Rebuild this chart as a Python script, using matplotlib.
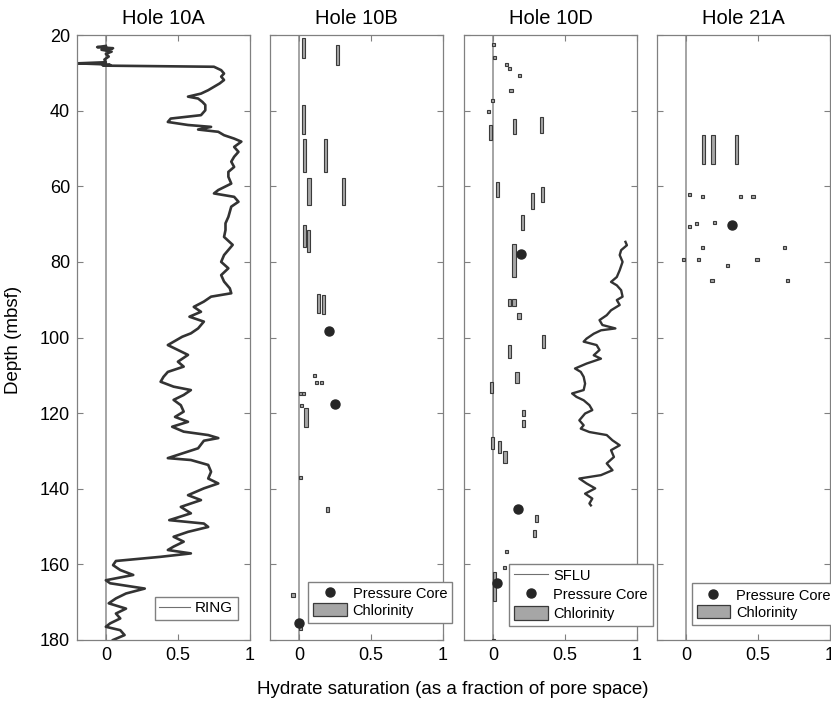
import matplotlib
matplotlib.use("Agg")
import matplotlib.pyplot as plt
from matplotlib.lines import Line2D
from matplotlib.patches import Patch

plt.rcParams['font.family'] = ['Liberation Sans', 'DejaVu Sans']

# ---------------- data ----------------
holes = ["Hole 10A", "Hole 10B", "Hole 10D", "Hole 21A"]

ring_depth = [22.9, 23.2, 23.5, 23.9, 24.4, 25.0, 25.7, 26.5, 27.2, 27.5, 27.7, 27.9, 28.1,
              28.4, 29.3, 30.2, 31.0, 31.9, 32.8, 33.7, 34.6, 35.5, 36.3, 36.8, 37.7, 38.5,
              39.9, 41.2, 42.1, 43.0, 43.8, 44.3, 45.0, 45.6, 46.5, 47.4, 48.2, 49.6, 50.9,
              52.2, 53.5, 54.9, 56.2, 57.5, 59.3, 61.0, 61.9, 62.8, 64.1, 65.4, 66.8, 68.1,
              69.8, 71.6, 73.4, 75.5, 78.2, 80.0, 81.7, 83.5, 85.2, 87.0, 88.3, 89.2, 90.5,
              91.9, 93.2, 94.5, 95.8, 97.6, 98.9, 99.8, 101.1, 102.0, 103.3, 104.6, 106.4,
              107.7, 109.1, 110.4, 111.7, 113.0, 113.9, 115.2, 116.5, 117.9, 119.6, 121.0,
              122.3, 123.6, 124.9, 125.8, 126.6, 127.3, 129.3, 131.9, 132.4, 133.7, 135.5,
              137.3, 138.6, 139.9, 141.7, 143.0, 144.8, 146.5, 148.3, 149.2, 150.1, 151.4,
              152.7, 154.0, 155.3, 156.2, 157.1, 158.0, 158.6, 159.1, 160.2, 161.5, 162.8,
              164.2, 165.0, 166.4, 167.7, 169.0, 170.3, 171.7, 173.0, 174.3, 175.6, 176.5,
              177.4, 178.7, 180.0]
ring_value = [0.0, -0.06, 0.05, -0.03, 0.04, 0.0, 0.02, -0.01, 0.0, -0.2, -0.05, 0.03, -0.02,
              0.75, 0.80, 0.82, 0.80, 0.82, 0.79, 0.75, 0.71, 0.66, 0.57, 0.64, 0.67, 0.69,
              0.69, 0.66, 0.45, 0.43, 0.57, 0.73, 0.64, 0.78, 0.82, 0.89, 0.94, 0.89, 0.92,
              0.89, 0.87, 0.89, 0.85, 0.85, 0.87, 0.78, 0.75, 0.89, 0.92, 0.87, 0.86, 0.85,
              0.83, 0.83, 0.82, 0.88, 0.82, 0.80, 0.85, 0.80, 0.82, 0.86, 0.87, 0.73, 0.68,
              0.61, 0.66, 0.58, 0.68, 0.64, 0.59, 0.53, 0.47, 0.43, 0.50, 0.57, 0.50,
              0.54, 0.43, 0.40, 0.38, 0.47, 0.59, 0.54, 0.47, 0.52, 0.54, 0.48,
              0.57, 0.46, 0.54, 0.71, 0.78, 0.68, 0.64, 0.43, 0.59, 0.71, 0.73,
              0.71, 0.78, 0.68, 0.57, 0.66, 0.52, 0.59, 0.44, 0.68, 0.71, 0.57,
              0.47, 0.54, 0.47, 0.43, 0.59, 0.38, 0.21, 0.07, 0.05, 0.10, 0.19,
              0.0, 0.03, 0.27, 0.14, 0.07, 0.02, 0.14, 0.07, 0.10, 0.03, 0.0,
              0.10, 0.13, 0.05]

sflu_depth = [74.7, 75.6, 76.9, 78.2, 80.0, 82.2, 84.0, 85.3, 86.2, 87.5, 89.2, 90.1, 91.4,
              92.8, 94.1, 95.4, 96.7, 97.6, 98.1, 99.0, 100.3, 101.1, 102.0, 103.3, 104.7,
              105.6, 106.9, 108.2, 109.1, 110.4, 112.2, 113.9, 114.8, 115.7, 116.6, 117.9,
              119.2, 120.1, 121.9, 123.2, 124.1, 125.0, 125.8, 127.2, 128.5, 129.8, 131.6,
              133.3, 135.1, 136.4, 137.3, 138.6, 139.9, 141.3, 142.6, 143.9, 144.4]
sflu_value = [0.92, 0.93, 0.89, 0.88, 0.90, 0.88, 0.86, 0.82, 0.86, 0.89, 0.90, 0.86, 0.88,
              0.82, 0.79, 0.74, 0.76, 0.85, 0.75, 0.70, 0.65, 0.63, 0.72, 0.74, 0.70,
              0.75, 0.65, 0.57, 0.61, 0.63, 0.64, 0.63, 0.55, 0.58, 0.63, 0.67,
              0.69, 0.64, 0.60, 0.63, 0.61, 0.67, 0.79, 0.83, 0.88, 0.82, 0.84,
              0.79, 0.83, 0.75, 0.60, 0.65, 0.71, 0.64, 0.69, 0.67, 0.68]

# chlorinity-derived saturation intervals: value, top depth, bottom depth
cl10b_value = [0.033, 0.266, 0.033, 0.042, 0.184, 0.070, 0.308, 0.040, 0.065, 0.135, 0.172,
               0.11, 0.12, 0.16, 0.01, 0.03, 0.02, 0.05, 0.01, 0.196, -0.04, 0.01]
cl10b_top = [20.7, 22.7, 38.4, 47.4, 47.4, 57.9, 57.9, 70.3, 71.6, 88.5, 88.7,
             109.7, 111.4, 111.4, 114.4, 114.4, 117.7, 118.7, 136.6, 144.7, 167.7, 176.6]
cl10b_bot = [26.2, 28.0, 46.1, 56.3, 56.3, 65.0, 65.0, 76.0, 77.3, 93.5, 93.9,
             110.5, 112.2, 112.2, 115.2, 115.2, 118.5, 123.6, 137.4, 146.2, 168.5, 177.4]
pc10b_value = [0.21, 0.254, 0.0]
pc10b_depth = [98.4, 117.7, 175.6]

cl10d_value = [0.005, 0.014, 0.093, 0.114, 0.184, 0.126, -0.005, -0.028, 0.149, 0.336, -0.014,
               0.030, 0.347, 0.273, 0.203, 0.147, 0.114, 0.147, 0.182, 0.35, 0.114, 0.168,
               -0.007, 0.21, 0.21, 0.0, 0.044, 0.084, 0.303, 0.287, 0.096, 0.079, 0.014, 0.005]
cl10d_top = [22.1, 25.6, 27.5, 28.4, 30.3, 34.2, 36.8, 39.9, 42.1, 41.8, 43.8,
             58.8, 60.1, 61.9, 67.5, 75.4, 89.7, 89.7, 93.4, 99.3, 102.0, 109.0,
             111.8, 119.2, 121.8, 126.4, 127.5, 129.9, 147.0, 150.9, 156.2, 160.4, 161.9, 179.8]
cl10d_bot = [22.9, 26.4, 28.3, 29.2, 31.1, 35.0, 37.6, 40.7, 46.2, 45.8, 47.8,
             62.9, 64.2, 66.0, 71.6, 84.0, 91.6, 91.6, 95.2, 102.9, 105.5, 112.0,
             114.8, 120.8, 123.6, 129.6, 130.6, 133.1, 148.7, 152.7, 157.0, 161.2, 169.6, 180.6]
pc10d_value = [0.193, 0.177, 0.028]
pc10d_depth = [77.9, 145.4, 164.8]

cl21a_value = [0.121, 0.189, 0.35, 0.028, 0.114, 0.382, 0.466, 0.028, 0.072, 0.198,
               0.114, 0.685, -0.016, 0.086, 0.494, 0.289, 0.182, 0.706]
cl21a_top = [46.4, 46.4, 46.4, 61.7, 62.2, 62.2, 62.2, 70.3, 69.4, 69.3,
             75.7, 75.7, 78.9, 78.9, 78.9, 80.5, 84.6, 84.6]
cl21a_bot = [54.1, 54.1, 54.1, 62.5, 63.0, 63.0, 63.0, 71.1, 70.2, 70.1,
             76.5, 76.5, 79.7, 79.7, 79.7, 81.3, 85.4, 85.4]
pc21a_value = [0.317]
pc21a_depth = [70.3]

x_ticks = [0, 0.5, 1]
x_ticklabels = ["0", "0.5", "1"]
y_ticks = [20, 40, 60, 80, 100, 120, 140, 160, 180]

# ---------------- figure ----------------
W, H = 831, 701
fig = plt.figure(figsize=(W / 100, H / 100), dpi=100)

lefts = [77, 270, 464, 657]
ax_w, top_px, bot_px = 173, 35, 640
axes = []
for i, lp in enumerate(lefts):
    ax = fig.add_axes([lp / W, (H - bot_px) / H, ax_w / W, (bot_px - top_px) / H])
    axes.append(ax)

frame_col = '#808080'
curve_col = '#333333'
bar_face = '#a6a6a6'
bar_edge = '#3a3a3a'
dot_col = '#262626'
zero_col = '#8c8c8c'
bar_w = 0.022

for i, ax in enumerate(axes):
    ax.set_xlim(-0.2, 1.0)
    ax.set_ylim(180, 20)
    ax.axvline(0, color=zero_col, lw=1.1, zorder=1)
    ax.set_xticks(x_ticks)
    ax.set_xticklabels(x_ticklabels)
    ax.set_yticks(y_ticks)
    ax.tick_params(direction='in', length=4.5, width=0.8, color=frame_col,
                   top=True, right=True, labelsize=13, pad=5)
    if i > 0:
        ax.set_yticklabels([])
    for s in ax.spines.values():
        s.set_color(frame_col)
        s.set_linewidth(0.9)
    ax.set_title(holes[i], fontsize=14.5, pad=8)


def draw_cl(ax, vals, tops, bots):
    heights = [b - t for t, b in zip(tops, bots)]
    ax.bar(vals, heights, bottom=tops, width=bar_w, color=bar_face,
           edgecolor=bar_edge, linewidth=0.8, zorder=3)


def draw_pc(ax, vals, depths):
    ax.plot(vals, depths, 'o', color=dot_col, markersize=6.5, zorder=4, clip_on=False)


# Hole 10A
axes[0].plot(ring_value, ring_depth, color=curve_col, lw=1.9, zorder=2)
h_ring = Line2D([], [], color='#707070', lw=0.8)
axes[0].legend([h_ring], ["RING"], loc='lower left', bbox_to_anchor=(0.449, 0.033),
               borderaxespad=0, fontsize=11, frameon=True, fancybox=False,
               edgecolor=frame_col, framealpha=1, handlelength=2.0, handletextpad=0.35,
               borderpad=0.3)

h_pc = Line2D([], [], ls='none', marker='o', color=dot_col, markersize=6.5)
h_cl = Patch(facecolor=bar_face, edgecolor=bar_edge, linewidth=0.9)

# Hole 10B
draw_cl(axes[1], cl10b_value, cl10b_top, cl10b_bot)
draw_pc(axes[1], pc10b_value, pc10b_depth)
leg = axes[1].legend([h_pc, h_cl], ["Pressure Core", "Chlorinity"], loc='lower left',
                     bbox_to_anchor=(0.22, 0.028), borderaxespad=0, fontsize=10.5,
                     frameon=True, fancybox=False, edgecolor=frame_col, framealpha=1,
                     handlelength=2.3, handleheight=1.0, handletextpad=0.4,
                     borderpad=0.35, labelspacing=0.15)

# Hole 10D
draw_cl(axes[2], cl10d_value, cl10d_top, cl10d_bot)
draw_pc(axes[2], pc10d_value, pc10d_depth)
axes[2].plot(sflu_value, sflu_depth, color=curve_col, lw=1.7, zorder=2)
h_sflu = Line2D([], [], color='#707070', lw=0.8)
axes[2].legend([h_sflu, h_pc, h_cl], ["SFLU", "Pressure Core", "Chlorinity"], loc='lower left',
               bbox_to_anchor=(0.26, 0.023), borderaxespad=0, fontsize=10.5,
               frameon=True, fancybox=False, edgecolor=frame_col, framealpha=1,
               handlelength=2.3, handleheight=1.0, handletextpad=0.4,
               borderpad=0.35, labelspacing=0.3)

# Hole 21A
draw_cl(axes[3], cl21a_value, cl21a_top, cl21a_bot)
draw_pc(axes[3], pc21a_value, pc21a_depth)
axes[3].legend([h_pc, h_cl], ["Pressure Core", "Chlorinity"], loc='lower left',
               bbox_to_anchor=(0.20, 0.025), borderaxespad=0, fontsize=10.5,
               frameon=True, fancybox=False, edgecolor=frame_col, framealpha=1,
               handlelength=2.3, handleheight=1.0, handletextpad=0.4,
               borderpad=0.35, labelspacing=0.15)

fig.text(453 / W, 1 - 690 / H, "Hydrate saturation (as a fraction of pore space)",
         ha='center', va='center', fontsize=13.5)
fig.text(14 / W, 1 - 340 / H, "Depth (mbsf)", ha='center', va='center',
         rotation=90, fontsize=13.5)

fig.savefig("out.png", dpi=100)
